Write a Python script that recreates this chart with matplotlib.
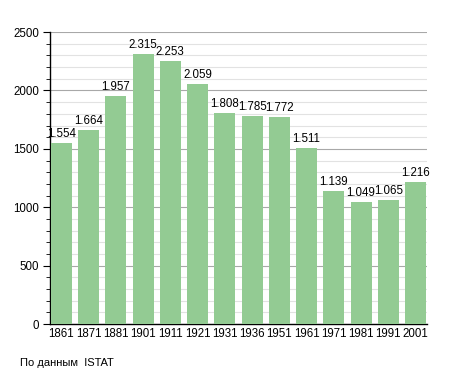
import matplotlib.pyplot as plt
from matplotlib.ticker import MultipleLocator

plt.rcParams["font.family"] = ["Liberation Sans", "DejaVu Sans"]

years = ["1861", "1871", "1881", "1901", "1911", "1921", "1931",
         "1936", "1951", "1961", "1971", "1981", "1991", "2001"]
population = [1554, 1664, 1957, 2315, 2253, 2059, 1808,
              1785, 1772, 1511, 1139, 1049, 1065, 1216]

fig = plt.figure(figsize=(4.55, 3.73), dpi=100)
ax = fig.add_axes([0.110, 0.131, 0.828, 0.783])

x = range(len(years))
ax.bar(x, population, width=0.77, color="#93cb93", zorder=3)

for xi, v in zip(x, population):
    label = f"{v:,}".replace(",", ".")
    ax.text(xi, v + 25, label, ha="center", va="bottom", fontsize=8.3, zorder=4)

ax.set_xlim(-0.41, 13.41)
ax.set_ylim(0, 2500)
ax.set_xticks(list(x))
ax.set_xticklabels(years, fontsize=8.3)
ax.yaxis.set_major_locator(MultipleLocator(500))
ax.yaxis.set_minor_locator(MultipleLocator(100))
ax.tick_params(axis="y", which="major", length=5, labelsize=8.3, pad=3)
ax.tick_params(axis="y", which="minor", length=3)
ax.tick_params(axis="x", length=0, pad=3)

ax.grid(True, axis="y", which="major", color="#a8a8a8", linewidth=0.8, zorder=0)
ax.grid(True, axis="y", which="minor", color="#e2e2e2", linewidth=0.8, zorder=0)
ax.set_axisbelow(True)

for s in ("top", "right"):
    ax.spines[s].set_visible(False)
ax.spines["left"].set_linewidth(1.0)
ax.spines["bottom"].set_linewidth(1.0)

fig.text(0.044, 0.028, "По данным  ISTAT", fontsize=8, ha="left", va="center")

plt.savefig("out.png", dpi=100)
